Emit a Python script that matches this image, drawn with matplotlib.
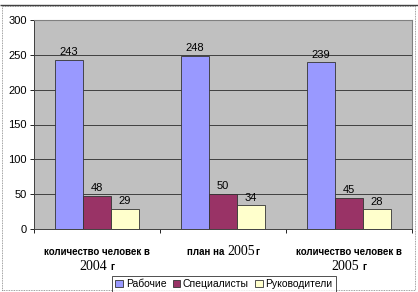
import matplotlib.pyplot as plt
import numpy as np
from matplotlib.patches import Rectangle

# data
categories = ["количество человек в\n2004 г", "план на 2005г", "количество человек в\n2005 г"]
series_names = ["Рабочие", "Специалисты", "Руководители"]
workers = [243, 248, 239]
specialists = [48, 50, 45]
managers = [29, 34, 28]
colors = ["#9999FF", "#993366", "#FFFFCC"]

plt.rcParams["font.family"] = ["Liberation Sans", "DejaVu Sans"]

fig = plt.figure(figsize=(4.18, 2.92), dpi=100)
ax = fig.add_axes([34 / 418, 1 - 229 / 292, 378 / 418, 209 / 292])
ax.set_facecolor("#C0C0C0")

x = np.arange(len(categories))
w = 28 / 126
for i, (vals, name) in enumerate(zip([workers, specialists, managers], series_names)):
    bars = ax.bar(x + (i - 1) * w, vals, w, color=colors[i], edgecolor="#333333",
                  linewidth=0.6, label=name, zorder=3)
    for b, v in zip(bars, vals):
        ax.text(b.get_x() + b.get_width() / 2, v + 4, str(v), ha="center", va="bottom",
                fontsize=8, zorder=4)

ax.set_xlim(-0.5, len(categories) - 0.5)
ax.set_ylim(0, 300)
ax.set_yticks(range(0, 301, 50))
ax.yaxis.grid(True, color="#404040", linewidth=0.7, zorder=1)
ax.tick_params(axis="y", labelsize=8, length=3, width=0.6, pad=2)
ax.set_xticks(np.arange(len(categories) + 1) - 0.5)
ax.set_xticklabels([])
ax.tick_params(axis="x", length=3, width=0.6)
for s in ["top", "right"]:
    ax.spines[s].set_color("#808080")
for s in ["left", "bottom"]:
    ax.spines[s].set_color("#404040")
    ax.spines[s].set_linewidth(0.7)

sans = dict(fontsize=7, fontweight="bold")
serif = dict(fontsize=10, family="Liberation Serif")


def mixed_line(parts, xi, dy):
    # pieces share one baseline; measure them, then place side by side centred
    texts = [ax.annotate(s, (xi, 0), xytext=(0, dy), textcoords="offset points",
                         ha="left", va="baseline", **style) for s, style, g in parts]
    fig.canvas.draw()
    r = fig.canvas.get_renderer()
    widths = [t.get_window_extent(r).width * 72 / fig.dpi for t in texts]
    gaps = [g for s, style, g in parts]
    total = sum(widths) + sum(gaps[1:])
    pos = -total / 2
    for t, wd, g in zip(texts, widths, gaps):
        pos += g
        t.set_position((pos, dy))
        pos += wd


for xi, lab in zip(x, categories):
    if "\n" in lab:
        top, bottom = lab.split("\n")
        ax.annotate(top, (xi, 0), xytext=(0, -18.5), textcoords="offset points",
                    ha="center", va="baseline", **sans)
        year, unit = bottom.split(" ")
        mixed_line([(year, serif, 0), (unit, sans, 2)], xi, -29.5)
    else:
        mixed_line([("план на", sans, 0), (lab[8:12], serif, 2), (lab[12:], sans, 0.3)],
                   xi, -18.5)

leg = fig.legend(loc="center", bbox_to_anchor=(224 / 418, 1 - 284 / 292), ncol=3,
                 fontsize=7.5, frameon=True, fancybox=False, edgecolor="black",
                 handlelength=0.7, handleheight=0.7, handletextpad=0.3,
                 columnspacing=0.6, borderpad=0.3, borderaxespad=0)
leg.get_frame().set_linewidth(0.6)

# outer chart border
fig.patches.append(Rectangle((2 / 418, 2 / 292), 413 / 418, 284 / 292,
                             transform=fig.transFigure, fill=False,
                             edgecolor="#808080", linestyle=(0, (1, 1)), linewidth=0.6))
fig.patches.append(Rectangle((0, 1 - 5 / 292), 1, 0, transform=fig.transFigure,
                             fill=False, edgecolor="#404040", linewidth=1.0))

fig.savefig("out.png", dpi=100)
